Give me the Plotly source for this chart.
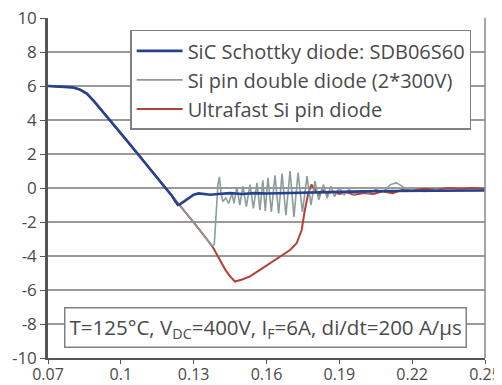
import plotly.graph_objects as go

# ---- data ----
x_tick_vals = [0.07, 0.10, 0.13, 0.16, 0.19, 0.22, 0.25]
x_tick_text = ["0.07", "0.1", "0.13", "0.16", "0.19", "0.22", "0.25"]
y_tick_vals = [-10, -8, -6, -4, -2, 0, 2, 4, 6, 8, 10]
y_tick_text = ["-10", "-8", "-6", "-4", "-2", "0", "2", "4", "6", "8", "10"]

names = ["SiC Schottky diode: SDB06S60",
         "Si pin double diode (2*300V)",
         "Ultrafast Si pin diode"]

sic_x = [0.07, 0.075, 0.08, 0.083, 0.086, 0.089, 0.092, 0.0955, 0.099, 0.103, 0.107,
         0.111, 0.115, 0.119, 0.121, 0.1225, 0.1235, 0.1245, 0.126, 0.128, 0.130, 0.132,
         0.134, 0.137, 0.140, 0.145, 0.150, 0.155, 0.160, 0.170, 0.180, 0.190, 0.200,
         0.210, 0.220, 0.230, 0.240, 0.250]
sic_y = [6.0, 5.98, 5.92, 5.8, 5.55, 5.1, 4.6, 4.0, 3.4, 2.7, 2.0,
         1.3, 0.6, -0.05, -0.45, -0.8, -1.0, -0.95, -0.8, -0.6, -0.4, -0.32,
         -0.35, -0.4, -0.35, -0.3, -0.35, -0.3, -0.32, -0.28, -0.25, -0.2, -0.2,
         -0.18, -0.17, -0.15, -0.15, -0.15]

pin2_x = [0.07, 0.075, 0.08, 0.083, 0.086, 0.089, 0.092, 0.0955, 0.099, 0.103, 0.107,
          0.111, 0.115, 0.119, 0.123, 0.127, 0.131, 0.135, 0.1375, 0.1385, 0.1392,
          0.1400, 0.1406, 0.1412, 0.1420, 0.1432, 0.1445, 0.1458, 0.1466, 0.1478,
          0.1490, 0.1503, 0.1517, 0.1532, 0.1546, 0.1561, 0.1573, 0.1585, 0.1595,
          0.1606, 0.1620, 0.1635, 0.1650, 0.1664, 0.1680, 0.1697, 0.1713, 0.1730,
          0.1748, 0.1767, 0.1783, 0.1800, 0.1815, 0.1835, 0.1850, 0.1865, 0.1880,
          0.1900, 0.1920, 0.1940, 0.1960, 0.1990, 0.2020, 0.2050, 0.2080, 0.2110,
          0.2135, 0.2160, 0.2180, 0.2210, 0.2250, 0.2300, 0.2350, 0.2400, 0.2450, 0.2500]
pin2_y = [6.0, 5.98, 5.92, 5.8, 5.55, 5.1, 4.6, 4.0, 3.4, 2.7, 2.0,
          1.3, 0.6, -0.05, -0.74, -1.47, -2.2, -2.94, -3.4, -3.3, -1.5,
          0.2, 0.65, -0.2, -0.8, -0.6, -0.9, -0.3, -0.9, 0.05,
          -1.0, 0.1, -1.1, 0.2, -1.2, 0.3, -1.3, 0.45, -1.35,
          0.6, -1.4, 0.75, -1.5, 0.85, -1.6, 1.0, -1.7, 0.9,
          -1.4, 0.7, -1.0, 0.4, -0.7, 0.2, -0.6, 0.1, -0.5,
          0.0, -0.4, -0.1, -0.35, -0.15, -0.3, -0.1, -0.25, 0.2,
          0.3, 0.1, -0.2, -0.15, -0.2, -0.1, -0.15, -0.1, -0.15, -0.1]

uf_x = [0.07, 0.075, 0.08, 0.083, 0.086, 0.089, 0.092, 0.0955, 0.099, 0.103, 0.107,
        0.111, 0.115, 0.119, 0.123, 0.127, 0.131, 0.135, 0.138, 0.1408, 0.143, 0.145,
        0.147, 0.150, 0.1532, 0.157, 0.1614, 0.1655, 0.1697, 0.1724, 0.1745, 0.1758,
        0.1772, 0.1785, 0.180, 0.1815, 0.183, 0.185, 0.187, 0.190, 0.193, 0.196, 0.200,
        0.204, 0.208, 0.212, 0.216, 0.220, 0.225, 0.230, 0.235, 0.240, 0.245, 0.250]
uf_y = [6.0, 5.98, 5.92, 5.8, 5.55, 5.1, 4.6, 4.0, 3.4, 2.7, 2.0,
        1.3, 0.6, -0.05, -0.74, -1.47, -2.2, -2.94, -3.5, -4.24, -4.8, -5.2,
        -5.5, -5.38, -5.2, -4.85, -4.43, -4.05, -3.65, -3.25, -2.47, -1.29,
        -0.31, 0.2, -0.1, -0.4, -0.1, -0.35, -0.2, -0.35, -0.25, -0.4, -0.3,
        -0.35, -0.2, -0.3, -0.1, -0.15, -0.05, -0.1, 0.0, -0.05, 0.0, -0.05]

FONT = "Open Sans"
TXT = "#4a4a4a"
fig = go.Figure()
fig.add_trace(go.Scatter(x=uf_x, y=uf_y, mode="lines", name=names[2], legendrank=3,
                         line=dict(color="#b5403a", width=2)))
fig.add_trace(go.Scatter(x=pin2_x, y=pin2_y, mode="lines", name=names[1], legendrank=2,
                         line=dict(color="#8c9c9a", width=1.6)))
fig.add_trace(go.Scatter(x=sic_x, y=sic_y, mode="lines", name=names[0], legendrank=1,
                         line=dict(color="#24428f", width=2.6)))

# the page body adds an 8px offset, so the figure is sized/margined to compensate
fig.update_layout(
    width=494, height=377,
    margin=dict(l=40, r=17, t=10, b=27),
    plot_bgcolor="white", paper_bgcolor="white",
    font=dict(family=FONT, size=17, color=TXT),
    showlegend=True,
    legend=dict(x=0.188, y=0.965, xanchor="left", yanchor="top",
                bgcolor="white", bordercolor="#808080", borderwidth=1.5,
                font=dict(size=20, color=TXT), tracegroupgap=0,
                itemwidth=46),
    xaxis=dict(range=[0.07, 0.25], tickvals=x_tick_vals, ticktext=x_tick_text,
               showgrid=False, zeroline=False, showline=True, linecolor="#555",
               linewidth=2, ticks="outside", ticklen=4, tickcolor="#555",
               automargin=False, ticklabeloverflow="allow", ticklabelstandoff=-3,
               tickfont=dict(size=16, color=TXT)),
    yaxis=dict(range=[-10, 10], tickvals=y_tick_vals, ticktext=y_tick_text,
               showgrid=True, gridcolor="#9a9a9a", gridwidth=1.5, zeroline=False,
               showline=True, linecolor="#555", linewidth=2.5, ticks="outside",
               ticklen=5, tickcolor="#555", automargin=False,
               ticklabeloverflow="allow",
               tickfont=dict(size=17, color=TXT)),
    shapes=[dict(type="line", xref="paper", yref="paper", x0=1, x1=1, y0=0, y1=1,
                 line=dict(color="#888", width=1.5))],
    annotations=[dict(xref="paper", yref="paper", x=0.498, y=0.091,
                      xanchor="center", yanchor="middle",
                      text="T=125°C, V<sub>DC</sub>=400V, I<sub>F</sub>=6A, di/dt=200 A/µs",
                      showarrow=False, bgcolor="white", bordercolor="#808080",
                      borderwidth=1.5, borderpad=4,
                      font=dict(size=20.5, color=TXT))],
)

fig.write_html("out.html")
